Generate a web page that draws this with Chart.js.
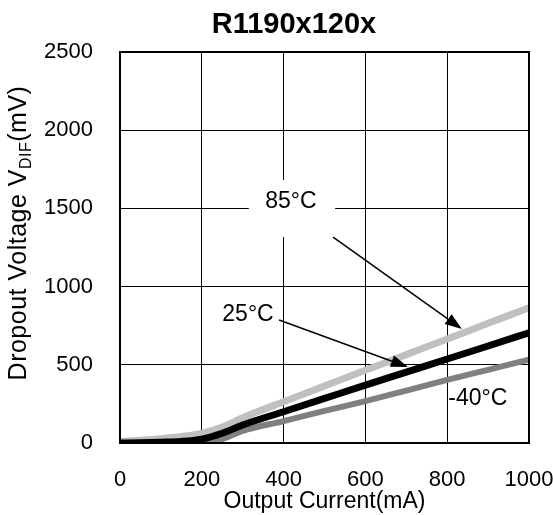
<!DOCTYPE html>
<html><head><meta charset="utf-8">
<script src="https://cdn.jsdelivr.net/npm/chart.js@4/dist/chart.umd.min.js"></script>
<style>html,body{margin:0;padding:0;background:#fff}</style>
</head><body>
<canvas id="c" width="553" height="515"></canvas>
<script>
// ---- data ----
const currents = [0, 50, 100, 150, 200, 250, 300, 400, 500, 600, 700, 800, 900, 1000];
const v85  = [10, 18, 28, 42, 62, 102, 162, 264, 365, 465, 565, 665, 765, 865];
const v25  = [0, 2, 5, 10, 25, 62, 115, 200, 285, 370, 453, 537, 620, 705];
const vm40 = [0, 0, 0, 0, 0, 24, 78, 140, 205, 268, 335, 403, 468, 533];
const xTicks = [0, 200, 400, 600, 800, 1000];
const yTicks = [0, 500, 1000, 1500, 2000, 2500];
const seriesNames = ['85°C', '25°C', '-40°C'];
const chartTitle = 'R1190x120x';
const xTitle = 'Output Current(mA)';
const yTitleMain = 'Dropout Voltage V';
const yTitleSub = 'DIF';
const yTitleEnd = '(mV)';
// annotation anchors in data units
const labelPos = [[418, 1541], [313, 818], [875, 281]];
const arrowFrom = [[521, 1317], [389, 786]];
const arrowTo = [[836, 729], [704, 486]];
const box85 = [315, 526, 1317, 1682];

const FONT = "'Liberation Sans', Arial, sans-serif";

const toPts = (vals) => currents.map((c, i) => ({x: c, y: vals[i]}));

function arrow(ctx, x1, y1, x2, y2) {
  const ang = Math.atan2(y2 - y1, x2 - x1);
  const L = 17, W = 6;
  const bx = x2 - L * Math.cos(ang), by = y2 - L * Math.sin(ang);
  ctx.beginPath(); ctx.moveTo(x1, y1); ctx.lineTo(bx, by); ctx.stroke();
  ctx.beginPath();
  ctx.moveTo(x2, y2);
  ctx.lineTo(bx + W * Math.sin(ang), by - W * Math.cos(ang));
  ctx.lineTo(bx - W * Math.sin(ang), by + W * Math.cos(ang));
  ctx.closePath(); ctx.fill();
}

const deco = {
  id: 'deco',
  beforeDatasetsDraw(chart) {
    const {ctx, scales: {x, y}} = chart;
    ctx.save();
    ctx.fillStyle = '#fff';
    const l = x.getPixelForValue(box85[0]), r = x.getPixelForValue(box85[1]);
    const b = y.getPixelForValue(box85[2]), t = y.getPixelForValue(box85[3]);
    ctx.fillRect(l, t, r - l, b - t);
    ctx.restore();
  },
  afterDatasetsDraw(chart) {
    const {ctx, scales: {x, y}, chartArea: a} = chart;
    ctx.save();
    ctx.strokeStyle = '#000'; ctx.lineWidth = 2;
    ctx.strokeRect(a.left, a.top, a.right - a.left, a.bottom - a.top);
    // labels
    ctx.fillStyle = '#000';
    ctx.font = '23px ' + FONT;
    ctx.textAlign = 'center'; ctx.textBaseline = 'middle';
    labelPos.forEach((p, i) => {
      ctx.fillText(seriesNames[i], x.getPixelForValue(p[0]), y.getPixelForValue(p[1]));
    });
    ctx.lineWidth = 1.5;
    arrowFrom.forEach((f, i) => {
      arrow(ctx, x.getPixelForValue(f[0]), y.getPixelForValue(f[1]),
        x.getPixelForValue(arrowTo[i][0]), y.getPixelForValue(arrowTo[i][1]));
    });
    ctx.restore();
  },
  afterDraw(chart) {
    const {ctx, chartArea: a} = chart;
    ctx.save();
    ctx.fillStyle = '#000';
    // title
    ctx.font = 'bold 29px ' + FONT;
    ctx.textAlign = 'center'; ctx.textBaseline = 'alphabetic';
    ctx.fillText(chartTitle, 294, 33);
    // x title
    ctx.font = '23px ' + FONT;
    ctx.fillText(xTitle, (a.left + a.right) / 2, 508);
    // y title with subscript
    ctx.translate(26, 233);
    ctx.rotate(-Math.PI / 2);
    try { ctx.letterSpacing = '0.5px'; } catch (e) {}
    const mainF = '25px ' + FONT, subF = '16px ' + FONT;
    ctx.font = mainF; const w1 = ctx.measureText(yTitleMain).width;
    const w3 = ctx.measureText(yTitleEnd).width;
    ctx.font = subF; const w2 = ctx.measureText(yTitleSub).width;
    let sx = -(w1 + w2 + w3) / 2;
    ctx.textAlign = 'left';
    ctx.font = mainF; ctx.fillText(yTitleMain, sx, 0); sx += w1;
    ctx.font = subF; ctx.fillText(yTitleSub, sx, 5); sx += w2;
    ctx.font = mainF; ctx.fillText(yTitleEnd, sx, 0);
    ctx.restore();
  }
};

new Chart(document.getElementById('c'), {
  type: 'line',
  data: {
    datasets: [
      {label: seriesNames[0], data: toPts(v85), borderColor: '#c0c0c0', borderWidth: 7, order: 3},
      {label: seriesNames[2], data: toPts(vm40), borderColor: '#808080', borderWidth: 6, order: 2},
      {label: seriesNames[1], data: toPts(v25), borderColor: '#000000', borderWidth: 7, order: 1}
    ]
  },
  options: {
    responsive: false,
    animation: false,
    devicePixelRatio: 1,
    layout: {padding: {top: 52, right: 0, left: 0, bottom: 0}},
    elements: {point: {radius: 0}, line: {cubicInterpolationMode: 'monotone', borderCapStyle: 'butt'}},
    plugins: {legend: {display: false}, tooltip: {enabled: false}, title: {display: false}},
    scales: {
      x: {
        type: 'linear', min: 0, max: 1000,
        afterBuildTicks: s => { s.ticks = xTicks.map(v => ({value: v})); },
        afterFit: s => { s.height = 72; s.paddingRight = 24; s.paddingLeft = 0; },
        grid: {color: '#000', lineWidth: 1, drawTicks: false},
        border: {color: '#000', width: 2},
        ticks: {color: '#000', font: {family: FONT, size: 22}, padding: 24, maxRotation: 0,
                callback: v => String(v)}
      },
      y: {
        type: 'linear', min: 0, max: 2500,
        afterBuildTicks: s => { s.ticks = yTicks.map(v => ({value: v})); },
        afterFit: s => { s.width = 120; },
        grid: {color: '#000', lineWidth: 1, drawTicks: false},
        border: {color: '#000', width: 2},
        ticks: {color: '#000', font: {family: FONT, size: 22}, padding: 27,
                callback: v => String(v)}
      }
    }
  },
  plugins: [deco]
});
</script>
</body></html>
